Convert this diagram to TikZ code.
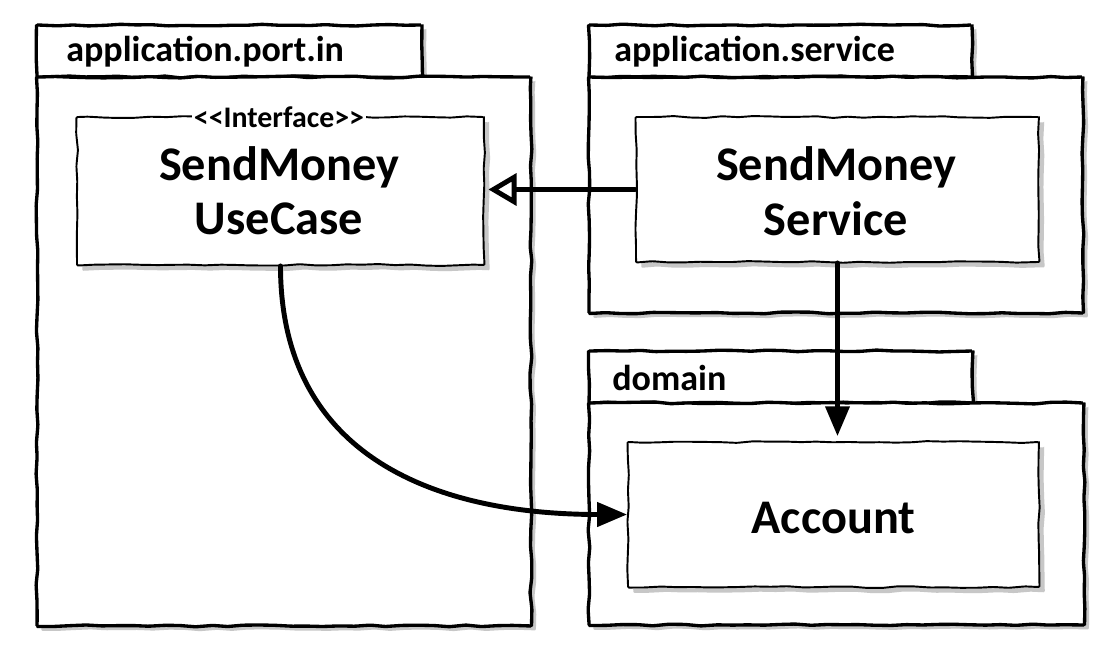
\documentclass[tikz,border=0pt]{standalone}
\usepackage{fontspec}
\setmainfont{Carlito}
\usetikzlibrary{arrows.meta,shadows,decorations.pathmorphing}
\begin{document}
\pgfmathsetseed{7}
\begin{tikzpicture}[x=0.02cm,y=-0.02cm,
  sketch/.style={decorate, decoration={random steps, segment length=9pt, amplitude=0.55pt}, rounded corners=0.6pt},
  pkg/.style={draw, line width=1.9pt, fill=white, sketch, inner sep=0pt,
    drop shadow={shadow xshift=2.5pt, shadow yshift=-2.5pt, fill=black!22, opacity=1}},
  cls/.style={draw, line width=1.1pt, fill=white, sketch, inner sep=0pt,
    drop shadow={shadow xshift=3pt, shadow yshift=-3pt, fill=black!22, opacity=1}},
  pkgname/.style={anchor=base west, inner sep=0pt, font=\bfseries\fontsize{20.5}{24}\selectfont},
  clsname/.style={anchor=base, inner sep=0pt, font=\bfseries\fontsize{27.5}{32}\selectfont},
  stereo/.style={fill=white, inner xsep=1pt, inner ysep=1pt, anchor=base, font=\bfseries\fontsize{17}{20}\selectfont},
  conn/.style={line width=2.8pt, line cap=round},
  realize/.style={conn, -{Triangle[open, length=16pt, width=18pt]}},
  dep/.style={conn, -{Triangle[length=17pt, width=13.5pt]}}
]
\fill[white] (0,0) rectangle (1117,649);
\useasboundingbox (0,0) rectangle (1117,649);

% package application.port.in
\node[pkg, minimum width=7.70cm, minimum height=1.04cm] (p1tab) at (229.5,51) {};
\node[pkg, minimum width=9.88cm, minimum height=10.98cm] (p1) at (284,351.5) {};
\node[pkgname] (p1name) at (66,61) {application.port.in};

% package application.service
\node[pkg, minimum width=7.66cm, minimum height=1.04cm] (p2tab) at (780.5,51) {};
\node[pkg, minimum width=9.88cm, minimum height=4.72cm] (p2) at (836,195) {};
\node[pkgname] (p2name) at (614,61) {application.service};

% package domain
\node[pkg, minimum width=7.68cm, minimum height=1.04cm] (p3tab) at (781,377) {};
\node[pkg, minimum width=9.90cm, minimum height=4.44cm] (p3) at (836.5,514) {};
\node[pkgname] (p3name) at (612,390) {domain};

% classes
\node[cls, minimum width=8.14cm, minimum height=2.96cm] (uc) at (280.5,191) {};
\node[stereo] (ucst) at (279,127) {<{}<Interface>{}>};
\node[clsname] (uct1) at (279,180) {SendMoney};
\node[clsname] (uct2) at (279,234) {UseCase};

\node[cls, minimum width=8.06cm, minimum height=2.90cm] (svc) at (837.5,189.5) {};
\node[clsname] (svct1) at (836,180) {SendMoney};
\node[clsname] (svct2) at (836,235) {Service};

\node[cls, minimum width=8.22cm, minimum height=2.90cm] (acc) at (833.5,514.5) {};
\node[clsname] (acct) at (833.5,533) {Account};

% connectors
\draw[realize, shorten >=2pt] (svc.west) -- (svc.west -| uc.east);
\draw[dep, shorten >=2.8pt] (svc.south) -- (svc.south |- acc.north);
\draw[dep] (uc.south) .. controls +(0,185) and +(-200,0) .. (acc.west);
\end{tikzpicture}
\end{document}
